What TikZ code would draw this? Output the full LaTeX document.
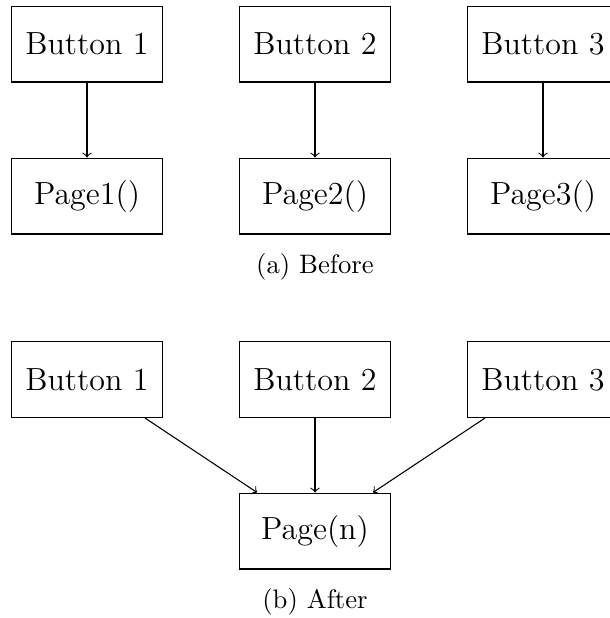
\documentclass[tikz,border=0pt]{standalone}
\usetikzlibrary{arrows}
\begin{document}
\begin{tikzpicture}[x=0.013175cm, y=-0.013175cm,
  box/.style={draw, minimum width=2cm, minimum height=1cm, inner sep=0pt, font=\large},
  conn/.style={->},
  captext/.style={font=\normalsize}]
\useasboundingbox (0,0) rectangle (610,618);
\clip (0,0) rectangle (610,618);
% (a) Before
\node[box] (b1) at (87,44) {Button 1};
\node[box] (b2) at (315,44) {Button 2};
\node[box] (b3) at (543,44) {Button 3};
\node[box] (p1) at (87,196) {Page1()};
\node[box] (p2) at (315,196) {Page2()};
\node[box] (p3) at (543,196) {Page3()};
\draw[conn] (b1) -- (p1);
\draw[conn] (b2) -- (p2);
\draw[conn] (b3) -- (p3);
\node[captext] (ca) at (315,267) {(a) Before};
% (b) After
\node[box] (c1) at (87,379.5) {Button 1};
\node[box] (c2) at (315,379.5) {Button 2};
\node[box] (c3) at (543,379.5) {Button 3};
\node[box] (pn) at (315,531) {Page(n)};
\draw[conn] (c1) -- (pn);
\draw[conn] (c2) -- (pn);
\draw[conn] (c3) -- (pn);
\node[captext] (cb) at (315,602) {(b) After};
\end{tikzpicture}
\end{document}
